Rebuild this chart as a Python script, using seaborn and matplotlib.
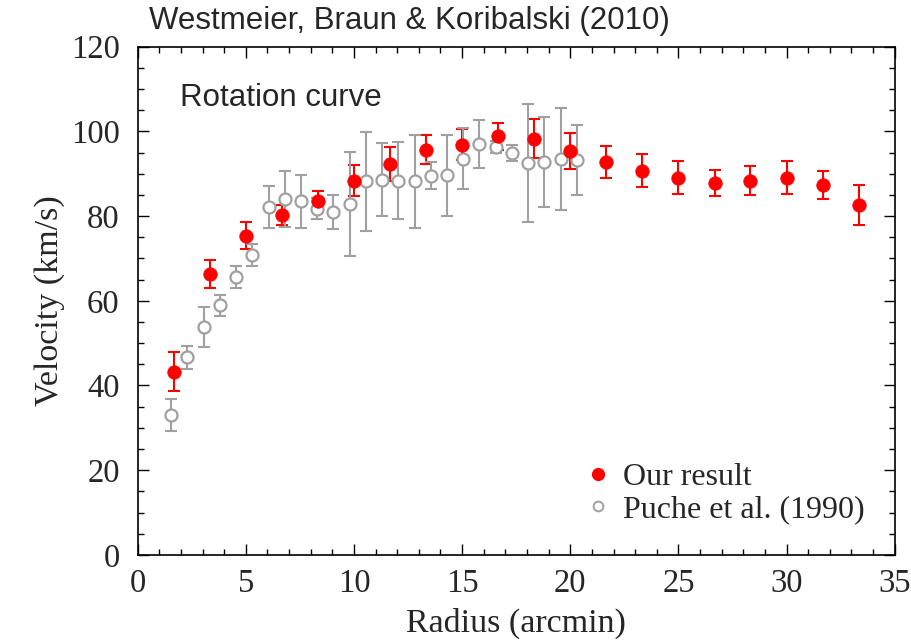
import matplotlib
matplotlib.use("Agg")
import matplotlib.pyplot as plt
import seaborn as sns
import pandas as pd
from matplotlib.ticker import MultipleLocator
from matplotlib.lines import Line2D

# Rotation curve from this work
our_radius = [1.67, 3.33, 5.00, 6.67, 8.33, 10.00, 11.67, 13.33, 15.00, 16.67,
              18.33, 20.00, 21.67, 23.33, 25.00, 26.67, 28.33, 30.00, 31.67, 33.33]
our_velocity = [43.3, 66.4, 75.4, 80.3, 83.5, 88.4, 92.3, 95.7, 96.9, 98.8,
                98.3, 95.4, 92.8, 90.7, 89.1, 87.9, 88.4, 89.1, 87.3, 82.6]
our_error = [4.6, 3.3, 3.2, 2.3, 2.5, 3.7, 4.0, 3.5, 3.6, 3.3,
             4.6, 4.2, 3.7, 3.9, 3.8, 3.1, 3.4, 3.8, 3.3, 4.7]

# Puche et al. (1990)
puche_radius = [1.55, 2.30, 3.05, 3.80, 4.55, 5.30, 6.05, 6.80, 7.55, 8.30,
                9.05, 9.80, 10.55, 11.30, 12.05, 12.80, 13.55, 14.30, 15.05, 15.80,
                16.55, 17.30, 18.05, 18.80, 19.55, 20.30]
puche_velocity = [33.1, 46.7, 53.9, 58.9, 65.7, 70.8, 82.1, 84.1, 83.5, 81.7,
                  80.9, 82.8, 88.2, 88.6, 88.4, 88.2, 89.5, 89.6, 93.5, 97.0,
                  96.3, 94.9, 92.6, 92.8, 93.5, 93.3]
puche_error = [3.8, 2.7, 4.7, 2.5, 2.6, 2.7, 4.9, 6.6, 6.2, 2.5,
               4.0, 12.3, 11.7, 8.6, 9.0, 10.9, 3.2, 9.5, 7.2, 5.6,
               1.5, 2.0, 13.9, 10.7, 12.1, 8.3]

CITATION = "Westmeier, Braun & Koribalski (2010)"
RED = "#ff0000"
GREY = "#a0a0a0"
SANS = ["Liberation Sans", "DejaVu Sans"]

sns.set_theme(style="ticks")
plt.rcParams["font.family"] = ["Liberation Serif", "DejaVu Serif"]

ours = pd.DataFrame({"r": our_radius, "v": our_velocity, "e": our_error})
puche = pd.DataFrame({"r": puche_radius, "v": puche_velocity, "e": puche_error})

fig = plt.figure(figsize=(9.12, 6.4), dpi=100)
ax = fig.add_axes([0.151, 0.133, 0.830, 0.794])

ax.errorbar(ours["r"], ours["v"], yerr=ours["e"], fmt="none", ecolor=RED,
            elinewidth=1.5, capsize=4.5, capthick=1.5, zorder=2)
ax.errorbar(puche["r"], puche["v"], yerr=puche["e"], fmt="none", ecolor=GREY,
            elinewidth=1.5, capsize=4.5, capthick=1.5, zorder=3)
sns.scatterplot(data=puche, x="r", y="v", ax=ax, marker="o", s=75,
                facecolor="white", edgecolor=GREY, linewidth=1.6, zorder=4,
                legend=False)
sns.scatterplot(data=ours, x="r", y="v", ax=ax, marker="o", s=95,
                color=RED, edgecolor=RED, linewidth=0.5, zorder=5, legend=False)

ax.set_xlim(0, 35)
ax.set_ylim(0, 120)
ax.xaxis.set_major_locator(MultipleLocator(5))
ax.xaxis.set_minor_locator(MultipleLocator(1))
ax.yaxis.set_major_locator(MultipleLocator(20))
ax.yaxis.set_minor_locator(MultipleLocator(5))
ax.tick_params(which="both", direction="in", top=True, right=True,
               color="black", width=1.0, labelsize=23.5)
ax.tick_params(axis="y", which="major", pad=13)
ax.tick_params(axis="x", which="major", pad=10)
ax.tick_params(which="major", length=8)
ax.tick_params(which="minor", length=4.5)
for sp in ax.spines.values():
    sp.set_color("black")
    sp.set_linewidth(1.2)

ax.set_xlabel("Radius (arcmin)", fontsize=24.5, labelpad=6)
ax.set_ylabel("Velocity (km/s)", fontsize=24.5, labelpad=4)

handles = [
    Line2D([], [], linestyle="none", marker="o", markersize=8.5,
           markerfacecolor=RED, markeredgecolor=RED),
    Line2D([], [], linestyle="none", marker="o", markersize=7,
           markerfacecolor="white", markeredgecolor=GREY, markeredgewidth=1.4),
]
ax.legend(handles, ["Our result", "Puche et al. (1990)"], loc="lower right",
          frameon=False, fontsize=23, handletextpad=0.25, labelspacing=0.1,
          borderaxespad=0.5, borderpad=0.45, handlelength=1.05)

ax.text(0.0555, 0.884, "Rotation curve", transform=ax.transAxes,
        family=SANS, fontsize=22.5, va="baseline", ha="left")
fig.text(149 / 912, 1 - 29 / 640, CITATION, family=SANS, fontsize=22.5,
         va="baseline", ha="left")

fig.savefig("out.png", dpi=100)
